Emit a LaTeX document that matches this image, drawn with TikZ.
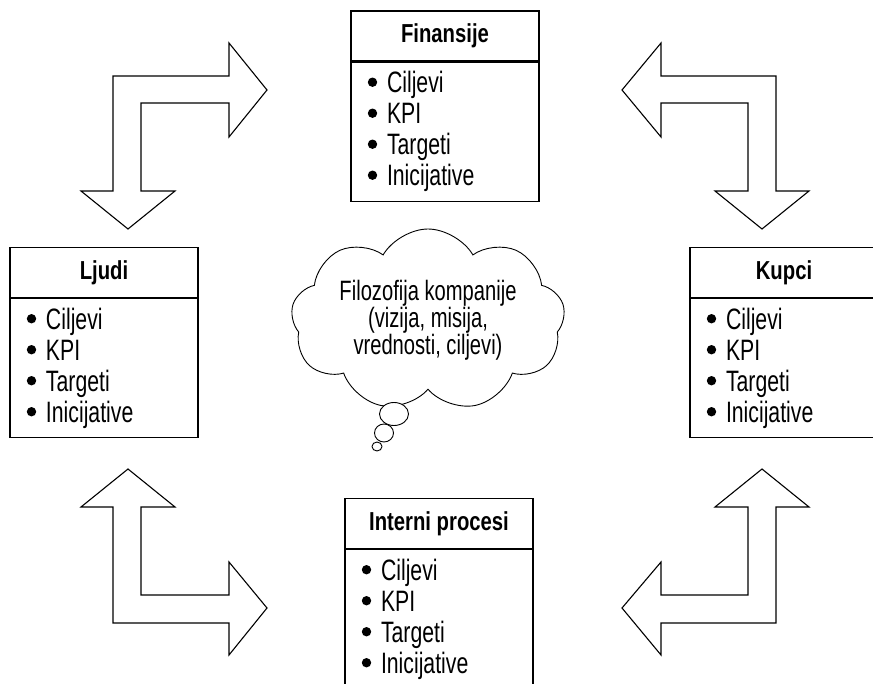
\documentclass[tikz,border=0pt]{standalone}
\usepackage{fontspec}
\setmainfont{Liberation Sans}[FakeStretch=0.72]
\newfontfamily\titlefont{Liberation Sans}[FakeStretch=0.78]
\usetikzlibrary{shapes.symbols,shapes.geometric}
\newcommand{\bdot}{\tikz[baseline=0pt]{\useasboundingbox (0pt,0pt) rectangle (9pt,9pt);\fill (4.5pt,10.5pt) circle[radius=4.7pt];}}
\tikzset{
  blockarrow/.style={draw, line width=1.1pt, line join=miter, fill=white},
  boxtitle/.style={draw, line width=1.1pt, minimum width=188pt, minimum height=50pt, inner sep=0pt,
    font=\titlefont\bfseries\fontsize{26}{30}\selectfont},
  boxbody/.style={draw, line width=1.1pt, minimum width=188pt, minimum height=139pt, text width=154pt,
    inner xsep=17pt, inner ysep=0pt, align=left, font=\fontsize{29.5}{31}\selectfont},
  thought/.style={draw, ellipse, line width=0.9pt, inner sep=0pt, fill=white},
}
\newcommand{\bodylist}{\bdot\hspace{10pt}Ciljevi\\\bdot\hspace{10pt}KPI\\\bdot\hspace{10pt}Targeti\\\bdot\hspace{10pt}Inicijative}
\begin{document}
\begin{tikzpicture}[x=1pt,y=-1pt]
\useasboundingbox[fill=white] (0,0) rectangle (873,684);

% boxes
\node[boxtitle] (finT) at (445,36) {Finansije};
\node[boxbody, anchor=north] (finB) at (finT.south) {\bodylist};
\node[boxtitle] (ljT) at (104,272.5) {Ljudi};
\node[boxbody, anchor=north] (ljB) at (ljT.south) {\bodylist};
\node[boxtitle] (kuT) at (784,272.5) {Kupci};
\node[boxbody, anchor=north] (kuB) at (kuT.south) {\bodylist};
\node[boxtitle] (inT) at (439,523.5) {Interni procesi};
\node[boxbody, anchor=north] (inB) at (inT.south) {\bodylist};

% cloud
\node[cloud, draw, cloud puffs=9, cloud puff arc=120, cloud ignores aspect,
  minimum width=274pt, minimum height=182pt, inner sep=0pt, align=center,
  font=\fontsize{28}{27}\selectfont, line width=0.9pt] (cloud) at (428,320)
  {Filozofija kompanije\\(vizija, misija,\\vrednosti, ciljevi)};
\node[thought, minimum width=29pt, minimum height=23pt] (b1) at (394,414) {};
\node[thought, minimum width=19pt, minimum height=18pt] (b2) at (384,433) {};
\node[thought, minimum width=10pt, minimum height=9pt] (b3) at (377,446.5) {};

% block arrows
\draw[blockarrow] (113,76) -- (229,76) -- (229,43) -- (267,90) -- (229,137) -- (229,103)
  -- (141,103) -- (141,191) -- (175,191) -- (128,229) -- (81,191) -- (113,191) -- cycle;
\draw[blockarrow] (776,76) -- (661,76) -- (661,43) -- (622,90) -- (661,137) -- (661,103)
  -- (748,103) -- (748,191) -- (715,191) -- (762,229) -- (809,191) -- (776,191) -- cycle;
\draw[blockarrow] (113,623) -- (113,507) -- (81,507) -- (128,469) -- (175,507) -- (141,507)
  -- (141,595) -- (229,595) -- (229,562) -- (267,608) -- (229,655) -- (229,623) -- cycle;
\draw[blockarrow] (776,623) -- (776,507) -- (809,507) -- (762,469) -- (715,507) -- (748,507)
  -- (748,595) -- (661,595) -- (661,562) -- (622,608) -- (661,655) -- (661,623) -- cycle;
\end{tikzpicture}
\end{document}
